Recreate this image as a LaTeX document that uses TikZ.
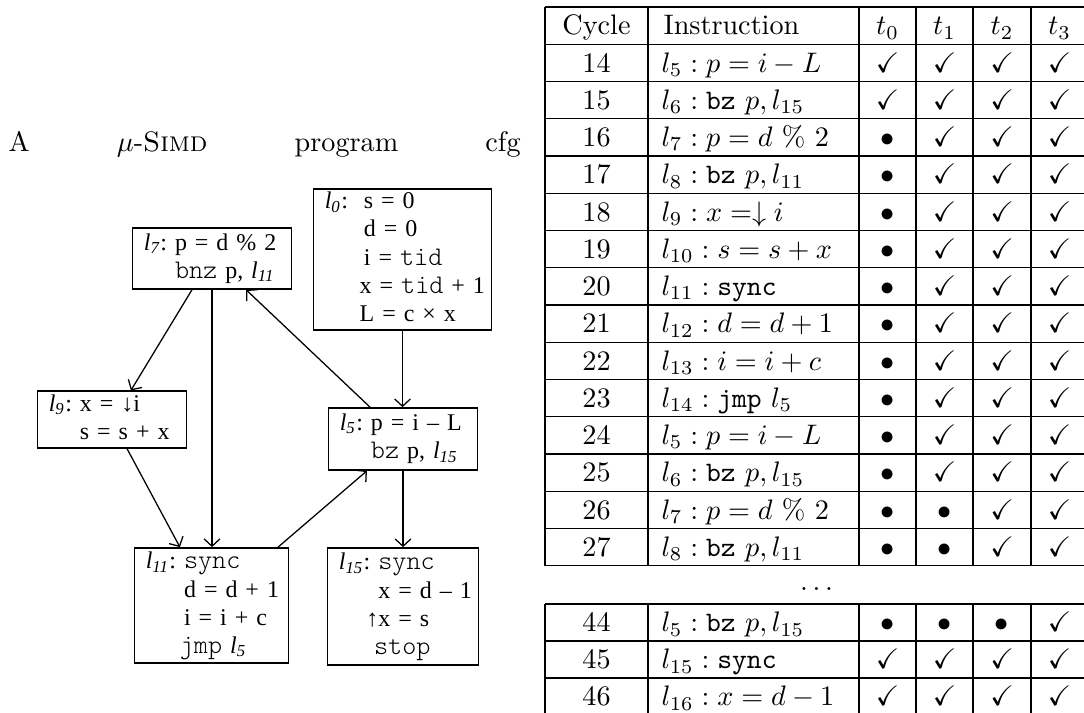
\documentclass[tikz,border=0pt]{standalone}
\usepackage{fontspec}
\usepackage{amssymb}
\newfontfamily\cfgrm{Liberation Serif}
\newfontfamily\cfgtt{lmmonolt10-regular}[Extension=.otf, Scale=1.12]
\usetikzlibrary{arrows.meta}

\newcommand{\cfgfont}{\cfgrm\fontsize{8.5}{10}\selectfont\spaceskip 1.7pt\relax}
\newcommand{\lref}[1]{\textit{l\textsubscript{#1}}}
\newcommand{\lab}[1]{\lref{#1}:}
\newcommand{\ok}{$\checkmark$}
\newcommand{\wt}{$\bullet$}

\begin{document}
\begin{tikzpicture}[x=0.3546pt, y=-0.3546pt,
    block/.style={draw, line width=0.6pt, inner xsep=4pt, inner ysep=0pt, align=left,
        font=\cfgfont},
    flow/.style={-{Straight Barb[length=2.6pt,width=5.6pt]}, line width=0.45pt},
    tabline/.style={line width=0.5pt},
    cell/.style={anchor=base, inner sep=0pt},
    instr/.style={anchor=base west, inner sep=0pt}]

\useasboundingbox (0,0) rectangle (1084,713);

% caption
\node[anchor=base west, inner sep=0pt] (title) at (8,152)
    {\makebox[181.6pt][s]{A $\mu$-\textsc{Simd} program cfg}};

% the cfg
\node[block, text width=55.1pt, minimum height=50pt] (l0) at (402.5,259.5)
    {\begin{tabular}{@{}l@{\ \ }l@{}}\lab{0} & s = 0\\ & d = 0\\ & i = {\cfgtt tid}\\
     & \hspace{-1.5pt}x = {\cfgtt tid} + 1\\ & \hspace{-1.5pt}L = c × x\end{tabular}};
\node[block, text width=48.3pt, minimum height=21.6pt] (l7) at (212,258.5)
    {\begin{tabular}{@{}l@{\ }l@{}}\lab{7} & p = d \% 2\\ & {\cfgtt bnz }p, \lref{11}\end{tabular}};
\node[block, text width=44.8pt, minimum height=19.5pt] (l9) at (112,419.5)
    {\begin{tabular}{@{}l@{\ }l@{}}\lab{9} & x = ↓i\\ & s = s + x\end{tabular}};
\node[block, text width=44.8pt, minimum height=22pt] (l5) at (403,439)
    {\begin{tabular}{@{}l@{\ }l@{}}\lab{5} & p = i – L\\ & {\cfgtt bz }p, \lref{15}\end{tabular}};
\node[block, text width=46.6pt, minimum height=40.8pt] (l11) at (211.5,605.5)
    {\begin{tabular}{@{}l@{\ }l@{}}\lab{11} & {\cfgtt sync}\\ & d = d + 1\\ & i = i + c\\
     & \hspace{-1.5pt}{\cfgtt jmp }\lref{5}\end{tabular}};
\node[block, text width=45.5pt, minimum height=41.5pt] (l15) at (403,606.5)
    {\begin{tabular}{@{}l@{\ }l@{}}\lab{15} & {\cfgtt sync}\\ & x = d – 1\\ & \llap{↑}x = s\\
     & \hspace{-1.5pt}{\cfgtt stop}\end{tabular}};

\draw[flow] (l0.south) -- (l0.south |- l5.north);
\draw[flow] (l5.south) -- (l5.south |- l15.north);
\draw[flow] (l7.south) -- (l7.south |- l11.north);
\draw[flow] ([xshift=-7.1pt]l7.south) -- ([xshift=6.7pt]l9.north);
\draw[flow] ([xshift=5.3pt]l9.south) -- ([xshift=-11.2pt]l11.north);
\draw[flow] ([xshift=-11.7pt]l5.north) -- ([xshift=12.1pt]l7.south);
\draw[flow] ([xshift=23.6pt]l11.north) -- ([xshift=-12.8pt]l5.south);

% the trace table
\foreach \k in {0,...,15} \draw[tabline] (545,{7+37.25*\k}) -- (1088,{7+37.25*\k});
\foreach \x in {545,648,859,916,973,1031,1088} \draw[tabline] (\x,7) -- (\x,565.75);
\foreach \k in {0,...,3} \draw[tabline] (545,{604+37*\k}) -- (1088,{604+37*\k});
\foreach \x in {545,648,859,916,973,1031,1088} \draw[tabline] (\x,604) -- (\x,715);

\node[cell] (hcyc) at (596.5,35) {Cycle};
\node[instr] (hins) at (663,35) {Instruction};
\foreach \t [count=\c from 0] in {887.5,944.5,1002,1059.5}
    \node[cell] (ht\c) at (\t,35) {$t_\c$};

\foreach \cyc/\ins/\tzero/\tone/\ttwo/\tthree [count=\r] in {
    14/{$l_5 : p = i - L$}/\ok/\ok/\ok/\ok,
    15/{$l_6 : \texttt{bz}\ p, l_{15}$}/\ok/\ok/\ok/\ok,
    16/{$l_7 : p = d\ \%\ 2$}/\wt/\ok/\ok/\ok,
    17/{$l_8 : \texttt{bz}\ p, l_{11}$}/\wt/\ok/\ok/\ok,
    18/{$l_9 : x =\downarrow i$}/\wt/\ok/\ok/\ok,
    19/{$l_{10} : s = s + x$}/\wt/\ok/\ok/\ok,
    20/{$l_{11} : \texttt{sync}$}/\wt/\ok/\ok/\ok,
    21/{$l_{12} : d = d + 1$}/\wt/\ok/\ok/\ok,
    22/{$l_{13} : i = i + c$}/\wt/\ok/\ok/\ok,
    23/{$l_{14} : \texttt{jmp}\ l_5$}/\wt/\ok/\ok/\ok,
    24/{$l_5 : p = i - L$}/\wt/\ok/\ok/\ok,
    25/{$l_6 : \texttt{bz}\ p, l_{15}$}/\wt/\ok/\ok/\ok,
    26/{$l_7 : p = d\ \%\ 2$}/\wt/\wt/\ok/\ok,
    27/{$l_8 : \texttt{bz}\ p, l_{11}$}/\wt/\wt/\ok/\ok}
{
    \node[cell] (cyc\r) at (596.5,{35+37.25*\r}) {\cyc};
    \node[instr] (ins\r) at (661,{35+37.25*\r}) {\ins};
    \node[cell] (ta\r) at (887.5,{35+37.25*\r}) {\tzero};
    \node[cell] (tb\r) at (944.5,{35+37.25*\r}) {\tone};
    \node[cell] (tc\r) at (1002,{35+37.25*\r}) {\ttwo};
    \node[cell] (td\r) at (1059.5,{35+37.25*\r}) {\tthree};
}

\node[cell] (gap) at (816.5,591) {$\dots$};

\foreach \cyc/\ins/\tzero/\tone/\ttwo/\tthree [count=\r from 0] in {
    44/{$l_5 : \texttt{bz}\ p, l_{15}$}/\wt/\wt/\wt/\ok,
    45/{$l_{15} : \texttt{sync}$}/\ok/\ok/\ok/\ok,
    46/{$l_{16} : x = d - 1$}/\ok/\ok/\ok/\ok}
{
    \node[cell] (cycb\r) at (596.5,{632+37*\r}) {\cyc};
    \node[instr] (insb\r) at (661,{632+37*\r}) {\ins};
    \node[cell] (tab\r) at (887.5,{632+37*\r}) {\tzero};
    \node[cell] (tbb\r) at (944.5,{632+37*\r}) {\tone};
    \node[cell] (tcb\r) at (1002,{632+37*\r}) {\ttwo};
    \node[cell] (tdb\r) at (1059.5,{632+37*\r}) {\tthree};
}

\end{tikzpicture}
\end{document}
